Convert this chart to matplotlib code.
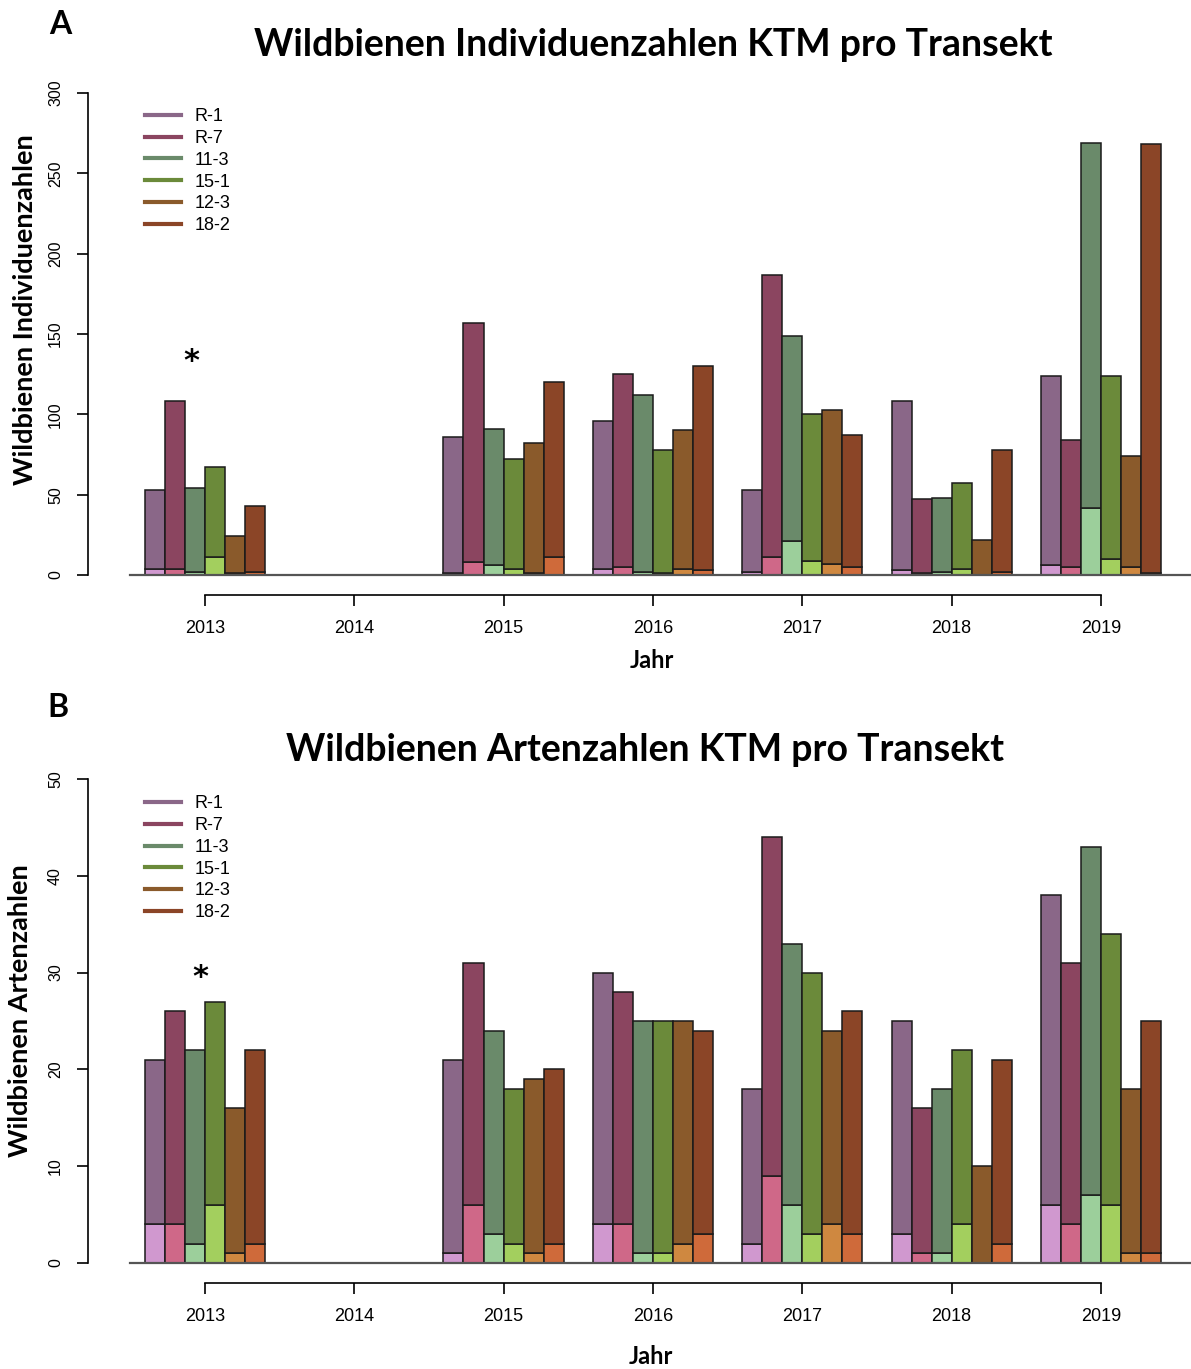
import matplotlib
matplotlib.use('Agg')
import matplotlib.pyplot as plt
from matplotlib.lines import Line2D
import numpy as np

# Jahre mit Daten (2014 fehlt)
years = [2013, 2015, 2016, 2017, 2018, 2019]
transects = ['R-1', 'R-7', '11-3', '15-1', '12-3', '18-2']

# Individuenzahlen: Gesamt und unterer (heller) Anteil, je Transekt ueber die Jahre
ind_total = {
    'R-1':  [53, 86, 96, 53, 108, 124],
    'R-7':  [108, 157, 125, 187, 47, 84],
    '11-3': [54, 91, 112, 149, 48, 269],
    '15-1': [67, 72, 78, 100, 57, 124],
    '12-3': [24, 82, 90, 103, 22, 74],
    '18-2': [43, 120, 130, 87, 78, 268],
}
ind_lower = {
    'R-1':  [4, 1, 4, 2, 3, 6],
    'R-7':  [4, 8, 5, 11, 1, 5],
    '11-3': [2, 6, 2, 21, 2, 42],
    '15-1': [11, 4, 1, 9, 4, 10],
    '12-3': [1, 1, 4, 7, 0, 5],
    '18-2': [2, 11, 3, 5, 2, 1],
}

# Artenzahlen
art_total = {
    'R-1':  [21, 21, 30, 18, 25, 38],
    'R-7':  [26, 31, 28, 44, 16, 31],
    '11-3': [22, 24, 25, 33, 18, 43],
    '15-1': [27, 18, 25, 30, 22, 34],
    '12-3': [16, 19, 25, 24, 10, 18],
    '18-2': [22, 20, 24, 26, 21, 25],
}
art_lower = {
    'R-1':  [4, 1, 4, 2, 3, 6],
    'R-7':  [4, 6, 4, 9, 1, 4],
    '11-3': [2, 3, 1, 6, 1, 7],
    '15-1': [6, 2, 1, 3, 4, 6],
    '12-3': [1, 1, 2, 4, 0, 1],
    '18-2': [2, 2, 3, 3, 2, 1],
}

dark = ['#8a6788', '#8b4560', '#6a8a6a', '#6b8a3a', '#8a5a2b', '#8b4527']
light = ['#d098cf', '#cf6888', '#9ccf9b', '#a3cf5e', '#cf8840', '#cf6a3a']

W, H = 1191, 1369
fig = plt.figure(figsize=(W / 100, H / 100), dpi=100)

TITLE_FONT = 'Lato'
TICK_FONT = 'Liberation Sans'
XMIN, XMAX = 2012.218, 2019.596
BAR_W = 0.134


def px_axes(left, top, right, bottom):
    return fig.add_axes([left / W, 1 - bottom / H, (right - left) / W, (bottom - top) / H])


def ftext(x, y, s, **kw):
    # Text in Pixelkoordinaten (von oben gemessen)
    fig.text(x / W, 1 - y / H, s, fontfamily=TITLE_FONT, fontweight='bold',
             ha='center', va='center', **kw)


def panel(ax, total, lower, ymax, ystep, star, leg_y):
    yrs = np.array(years, dtype=float)
    for i, t in enumerate(transects):
        x = yrs + (i - 2.5) * BAR_W
        lo = np.array(lower[t])
        tot = np.array(total[t])
        ax.bar(x, lo, BAR_W, color=light[i], edgecolor='#1a1a1a', linewidth=1.1, zorder=2)
        ax.bar(x, tot - lo, BAR_W, bottom=lo, color=dark[i], edgecolor='#1a1a1a',
               linewidth=1.1, zorder=2)

    ax.set_xlim(XMIN, XMAX)
    ax.set_ylim(0, ymax)
    # Grundlinie bei 0
    ax.plot([2012.5, XMAX], [0, 0], color='#555555', lw=1.6, zorder=3, clip_on=False)

    for s in ['top', 'right']:
        ax.spines[s].set_visible(False)
    ax.spines['left'].set_linewidth(1.2)
    ax.spines['bottom'].set_position(('outward', 14.4))
    ax.spines['bottom'].set_bounds(2013, 2019)
    ax.spines['bottom'].set_linewidth(1.2)

    ax.set_xticks(range(2013, 2020))
    ax.set_xticklabels([str(y) for y in range(2013, 2020)], fontfamily=TICK_FONT, fontsize=13)
    ax.tick_params(axis='x', length=8, width=1.2, pad=10)
    ax.set_yticks(np.arange(0, ymax + 1, ystep))
    ax.set_yticklabels([str(v) for v in range(0, ymax + 1, ystep)], fontfamily=TICK_FONT,
                       fontsize=11.5, rotation=90, va='center')
    ax.tick_params(axis='y', length=8, width=1.2, pad=10)

    ax.text(star[0], star[1], '*', fontsize=22, fontweight='bold', ha='center', va='center')

    handles = [Line2D([0], [0], color=c, lw=3) for c in dark]
    ax.legend(handles, transects, loc='upper left', bbox_to_anchor=(0.0517, leg_y),
              frameon=False, borderpad=0, borderaxespad=0, handlelength=2.0,
              handletextpad=0.75, labelspacing=0.26,
              prop={'family': TICK_FONT, 'size': 13})


ax1 = px_axes(88, 93, 1190, 575)
panel(ax1, ind_total, ind_lower, 300, 50, (2012.913, 133), 0.968)

ax2 = px_axes(88, 779, 1190, 1263)
panel(ax2, art_total, art_lower, 50, 10, (2012.967, 29.5), 0.966)

ftext(653, 45, 'Wildbienen Individuenzahlen KTM pro Transekt', fontsize=27)
ftext(645, 750, 'Wildbienen Artenzahlen KTM pro Transekt', fontsize=27)
ftext(25, 310, 'Wildbienen Individuenzahlen', fontsize=19.5, rotation=90)
ftext(20, 1011, 'Wildbienen Artenzahlen', fontsize=19.5, rotation=90)
ftext(652, 660, 'Jahr', fontsize=17)
ftext(651, 1357, 'Jahr', fontsize=17)
ftext(60, 25, 'A', fontsize=23)
ftext(58, 708, 'B', fontsize=23)

fig.savefig('out.png', dpi=100, facecolor='white')
